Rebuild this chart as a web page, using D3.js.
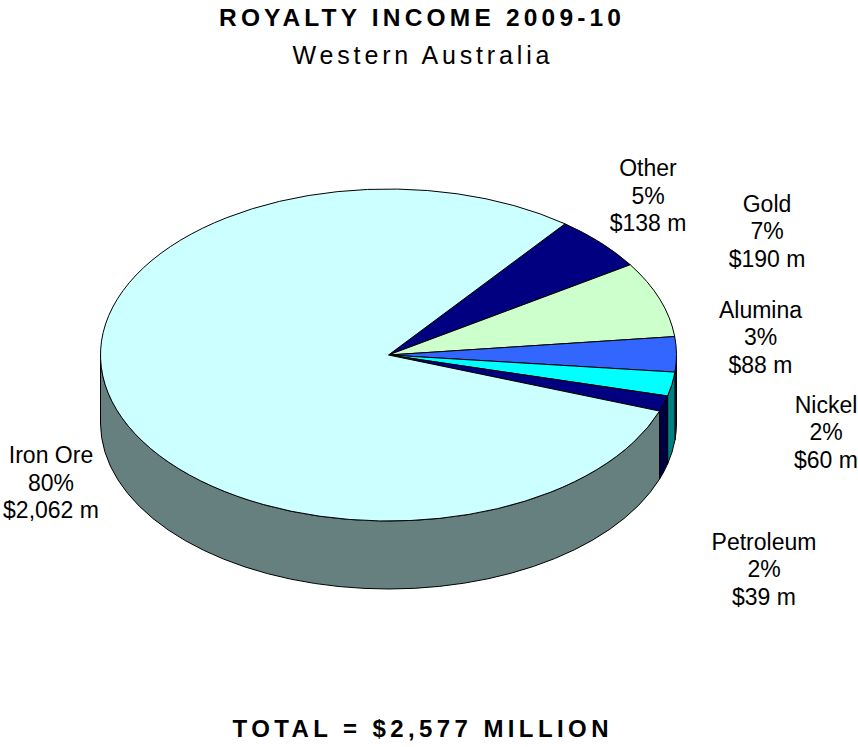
<!DOCTYPE html>
<html>
<head>
<meta charset="utf-8">
<script src="https://cdn.jsdelivr.net/npm/d3@7"></script>
<style>
  html, body { margin: 0; padding: 0; background: #ffffff; }
  svg { display: block; font-family: "Liberation Sans", Arial, sans-serif; }
</style>
</head>
<body>
<svg id="chart" width="858" height="747"></svg>
<script>
// Royalty income by commodity, 2009-10 ($ million)
const categories = ["Other", "Gold", "Alumina", "Nickel", "Petroleum", "Iron Ore"];
const values = [138, 190, 88, 60, 39, 2062];
const topColors = ["#000080", "#CCFFCC", "#3366FF", "#00FFFF", "#000080", "#CCFFFF"];
const sideColors = ["#000040", "#668066", "#1A3380", "#008080", "#000040", "#668080"];

const titleText = "ROYALTY INCOME 2009-10";
const subtitleText = "Western Australia";

const svg = d3.select("#chart");

// Ellipse geometry of the tilted pie
const cx = 388.5, cy = 355, rx = 288, ry = 166, depth = 68;
const start = 37.8 * Math.PI / 180;

const pie = d3.pie().sort(null).value(d => d).startAngle(start).endAngle(start + 2 * Math.PI);
const arcs = pie(values);

// Angle (clockwise from 12 o'clock) mapped to points on the ellipse
const sx = d3.scaleLinear().domain([-1, 1]).range([cx - rx, cx + rx]);
const sy = d3.scaleLinear().domain([-1, 1]).range([cy - ry, cy + ry]);
const pt = (a, dz = 0) => [sx(Math.sin(a)), sy(-Math.cos(a)) + dz];

function topPath(a0, a1) {
  const p0 = pt(a0), p1 = pt(a1);
  const large = (a1 - a0) > Math.PI ? 1 : 0;
  return `M${cx},${cy}L${p0[0]},${p0[1]}A${rx},${ry} 0 ${large} 1 ${p1[0]},${p1[1]}Z`;
}

function sidePath(a0, a1) {
  const p0 = pt(a0), p1 = pt(a1), q1 = pt(a1, depth), q0 = pt(a0, depth);
  const large = (a1 - a0) > Math.PI ? 1 : 0;
  return `M${p0[0]},${p0[1]}A${rx},${ry} 0 ${large} 1 ${p1[0]},${p1[1]}` +
         `L${q1[0]},${q1[1]}A${rx},${ry} 0 ${large} 0 ${q0[0]},${q0[1]}Z`;
}

// Front-facing wall: the part of each slice lying in the lower half of the ellipse
const TAU = 2 * Math.PI;
const sides = [];
arcs.forEach((d, i) => {
  for (let k = -1; k <= 1; k++) {
    const lo = Math.max(d.startAngle, Math.PI / 2 + k * TAU);
    const hi = Math.min(d.endAngle, 3 * Math.PI / 2 + k * TAU);
    if (hi > lo) sides.push({ i, a0: lo, a1: hi });
  }
});

const g = svg.append("g");
g.selectAll("path.side").data(sides).join("path")
  .attr("class", "side")
  .attr("d", d => sidePath(d.a0, d.a1))
  .attr("fill", d => sideColors[d.i])
  .attr("stroke", "#000")
  .attr("stroke-width", 1)
  .attr("stroke-linejoin", "round");

g.selectAll("path.top").data(arcs).join("path")
  .attr("class", "top")
  .attr("d", d => topPath(d.startAngle, d.endAngle))
  .attr("fill", (d, i) => topColors[i])
  .attr("stroke", "#000")
  .attr("stroke-width", 1)
  .attr("stroke-linejoin", "round");

// Slice labels: name, share and amount
const total = d3.sum(values);
const pct = d3.format(".0%");
const money = d3.format(",");
const labelPos = [
  [648, 176], [767, 211.5], [760.5, 317.5], [826, 412.5], [764, 549.5], [51, 463]
];
const lineGap = 27.5;

const labels = svg.append("g")
  .attr("font-size", 23)
  .attr("fill", "#000")
  .attr("text-anchor", "middle");

values.forEach((v, i) => {
  const t = labels.append("text")
    .attr("x", labelPos[i][0])
    .attr("y", labelPos[i][1]);
  [categories[i], pct(v / total), `$${money(v)} m`].forEach((line, j) => {
    t.append("tspan")
      .attr("x", labelPos[i][0])
      .attr("y", labelPos[i][1] + j * lineGap)
      .text(line);
  });
});

// Titles
svg.append("text")
  .attr("x", 420).attr("y", 25.5)
  .attr("text-anchor", "middle")
  .attr("font-size", 24.5).attr("font-weight", "bold")
  .attr("textLength", 402).attr("lengthAdjust", "spacing")
  .text(titleText);

svg.append("text")
  .attr("x", 421).attr("y", 63.5)
  .attr("text-anchor", "middle")
  .attr("font-size", 25)
  .attr("textLength", 257).attr("lengthAdjust", "spacing")
  .text(subtitleText);

svg.append("text")
  .attr("x", 420.5).attr("y", 737)
  .attr("text-anchor", "middle")
  .attr("font-size", 24).attr("font-weight", "bold")
  .attr("textLength", 376).attr("lengthAdjust", "spacing")
  .text(`TOTAL = $${money(total)} MILLION`);
</script>
</body>
</html>
